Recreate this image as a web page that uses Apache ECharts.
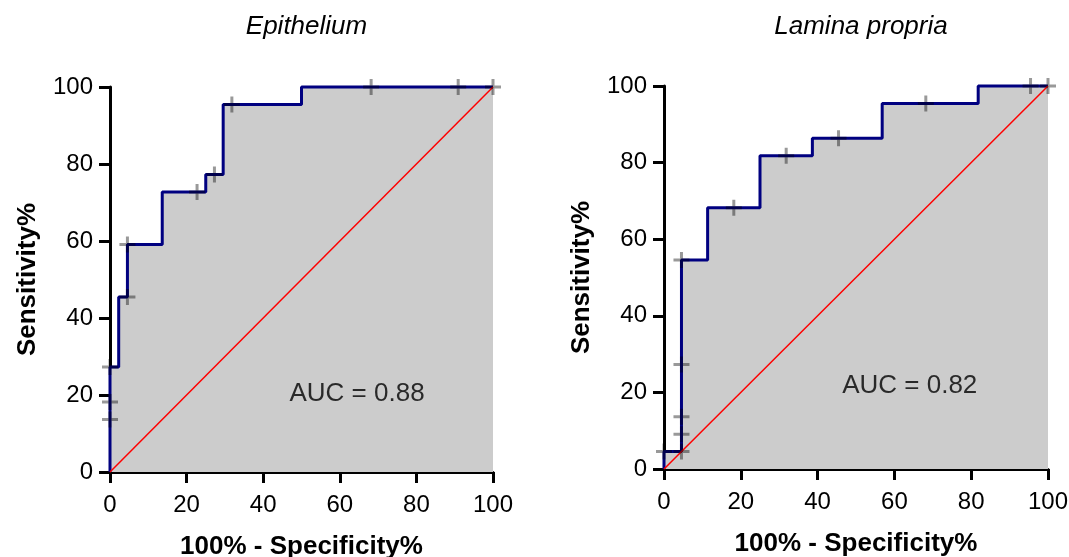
<!DOCTYPE html>
<html>
<head>
<meta charset="utf-8">
<script src="https://cdn.jsdelivr.net/npm/echarts@6/dist/echarts.min.js"></script>
<style>
html,body{margin:0;padding:0;background:#fff;}
#chart{width:1069px;height:557px;}
</style>
</head>
<body>
<div id="chart"></div>
<script>
// ---- data ----
const titles = ['Epithelium', 'Lamina propria'];
const axisTicks = [0, 20, 40, 60, 80, 100];
const xAxisName = '100% - Specificity%';
const yAxisName = 'Sensitivity%';
const aucValues = [0.88, 0.82];

// ROC staircase corners (step: 'start'), x = 100% - Specificity%, y = Sensitivity%
const epiStepX = [0, 2.27, 4.55, 13.64, 25, 29.55, 50, 100];
const epiStepY = [0, 27.27, 45.45, 59.09, 72.73, 77.27, 95.45, 100];
const lpStepX = [0, 4.55, 11.36, 25, 38.64, 56.82, 81.82, 100];
const lpStepY = [0, 4.55, 54.55, 68.18, 81.82, 86.36, 95.45, 100];

// "+" data points
const epiPtX = [0, 0, 0, 4.55, 4.55, 22.73, 27.27, 31.82, 68.18, 90.91, 100];
const epiPtY = [13.64, 18.18, 27.27, 45.45, 59.09, 72.73, 77.27, 95.45, 100, 100, 100];
const lpPtX = [0, 4.55, 4.55, 4.55, 4.55, 4.55, 18.18, 31.82, 45.45, 68.18, 95.45, 100];
const lpPtY = [4.55, 4.55, 9.09, 13.64, 27.27, 54.55, 68.18, 81.82, 86.36, 95.45, 100, 100];

// reference line
const diagX = [0, 100];
const diagY = [0, 100];

// label anchor for AUC text (data coords)
const aucPosX = [64.5, 64];
const aucPosY = [20.3, 21.7];

// ---- build ----
const FONT = '"Liberation Sans", Arial, Helvetica, sans-serif';
const zip = (a, b) => a.map((v, i) => [v, b[i]]);
const plusPath = 'path://M6.5,0 H9.5 V6.5 H16 V9.5 H9.5 V16 H6.5 V9.5 H0 V6.5 H6.5 Z';

const grids = [
  {left: 110, top: 87, width: 383, height: 385, containLabel: false, outerBoundsMode: 'none'},
  {left: 664, top: 86, width: 384, height: 383, containLabel: false, outerBoundsMode: 'none'}
];

function axisCommon(isX) {
  return {
    type: 'value', min: 0, max: 100, interval: 20,
    splitLine: {show: false},
    axisLine: {show: true, onZero: false, lineStyle: {color: '#000', width: 3}},
    axisTick: {show: true, length: 11, lineStyle: {color: '#000', width: 3}},
    axisLabel: {color: '#000', fontSize: 24, fontFamily: FONT, margin: isX ? 21 : 17,
      formatter: v => axisTicks.indexOf(v) >= 0 ? String(v) : ''},
    name: isX ? xAxisName : yAxisName,
    nameLocation: 'middle',
    nameGap: isX ? 62 : 69,
    nameTextStyle: {color: '#000', fontSize: 26, fontWeight: 'bold', fontFamily: FONT}
  };
}

const xAxes = [0, 1].map(i => Object.assign(axisCommon(true), {gridIndex: i}));
const yAxes = [0, 1].map(i => Object.assign(axisCommon(false), {gridIndex: i}));

const steps = [zip(epiStepX, epiStepY), zip(lpStepX, lpStepY)];
const pts = [zip(epiPtX, epiPtY), zip(lpPtX, lpPtY)];

const series = [];
[0, 1].forEach(i => {
  series.push({
    type: 'line', xAxisIndex: i, yAxisIndex: i, data: steps[i], step: 'start',
    symbol: 'none', clip: false, z: 2,
    lineStyle: {color: '#000080', width: 3},
    areaStyle: {color: '#cccccc', opacity: 1},
    animation: false
  });
  series.push({
    type: 'line', xAxisIndex: i, yAxisIndex: i, data: zip(diagX, diagY),
    symbol: 'none', clip: false, z: 3,
    lineStyle: {color: '#ff0000', width: 1.5},
    animation: false
  });
  series.push({
    type: 'scatter', xAxisIndex: i, yAxisIndex: i, data: pts[i],
    symbol: plusPath, symbolSize: 16, clip: false, z: 4,
    itemStyle: {color: 'rgba(0,0,0,0.5)'},
    animation: false
  });
  series.push({
    type: 'scatter', xAxisIndex: i, yAxisIndex: i, data: [[aucPosX[i], aucPosY[i]]],
    symbolSize: 0, z: 5, silent: true,
    label: {show: true, position: 'inside', color: '#000', fontSize: 26, fontFamily: FONT,
      formatter: () => 'AUC = ' + aucValues[i].toFixed(2)},
    animation: false
  });
});

const chart = echarts.init(document.getElementById('chart'), null, {renderer: 'canvas'});
chart.setOption({
  backgroundColor: '#fff',
  animation: false,
  title: titles.map((t, i) => ({
    text: t, left: grids[i].left + grids[i].width / 2, top: 9, textAlign: 'center',
    textStyle: {color: '#000', fontSize: 26, fontStyle: 'italic', fontWeight: 'normal', fontFamily: FONT}
  })),
  grid: grids,
  xAxis: xAxes,
  yAxis: yAxes,
  series: series
});
</script>
</body>
</html>
